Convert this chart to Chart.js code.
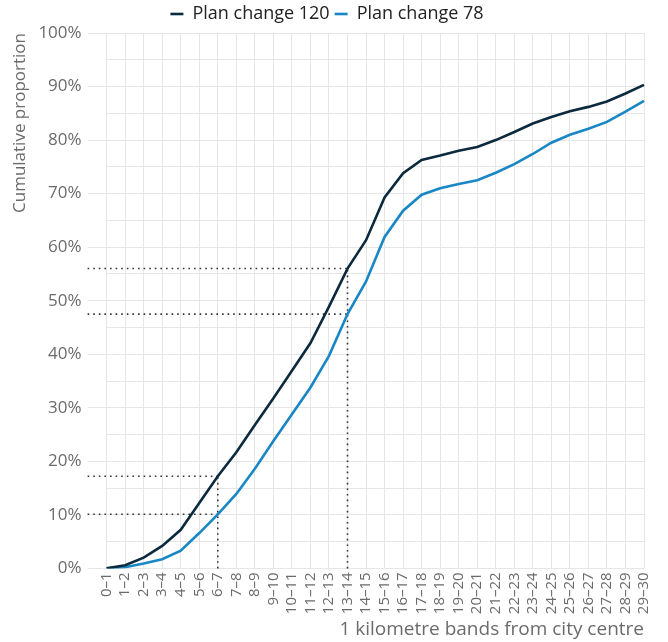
<!DOCTYPE html>
<html>
<head>
<meta charset="utf-8">
<script src="https://cdn.jsdelivr.net/npm/chart.js@4"></script>
<style>
  html, body { margin:0; padding:0; background:#fff; }
  #wrap { width:668px; height:642px; position:relative; }
</style>
</head>
<body>
<div id="wrap"><canvas id="chart"></canvas></div>
<script>
// ---- 데이터 ----
const bands = ['0–1','1–2','2–3','3–4','4–5','5–6','6–7','7–8','8–9','9–10',
  '10–11','11–12','12–13','13–14','14–15','15–16','16–17','17–18','18–19','19–20',
  '20–21','21–22','22–23','23–24','24–25','25–26','26–27','27–28','28–29','29–30'];

const plan120 = [0, 0.6, 2.0, 4.2, 7.2, 12.2, 17.2, 21.7, 26.8, 31.8,
  36.9, 42.1, 48.9, 56.0, 61.3, 69.3, 73.8, 76.3, 77.1, 78.0,
  78.7, 80.0, 81.5, 83.1, 84.3, 85.4, 86.2, 87.2, 88.7, 90.3];

const plan78 = [0, 0.2, 0.9, 1.7, 3.3, 6.6, 10.1, 13.9, 18.6, 23.8,
  28.8, 33.8, 39.7, 47.5, 53.6, 61.9, 66.8, 69.8, 71.0, 71.8,
  72.5, 73.9, 75.5, 77.4, 79.5, 81.0, 82.1, 83.4, 85.3, 87.3];

const yTicks = [0, 10, 20, 30, 40, 50, 60, 70, 80, 90, 100];
// 점선 기준선: 6–7, 13–14 구간
const refBands = ['6–7', '13–14'];

const FONT = '"Open Sans"';
const GREY = '#6b6b6b';

// ---- 점선 기준선 플러그인 ----
const refLines = {
  id: 'refLines',
  beforeDatasetsDraw(chart){
    const {ctx, scales:{x, y}, chartArea} = chart;
    ctx.save();
    ctx.strokeStyle = '#333';
    ctx.lineWidth = 1.6;
    ctx.setLineDash([1.6, 4]);
    refBands.forEach(b => {
      const i = bands.indexOf(b);
      const px = x.getPixelForValue(i);
      const top = Math.max(plan120[i], plan78[i]);
      ctx.beginPath();
      ctx.moveTo(px, y.getPixelForValue(0));
      ctx.lineTo(px, y.getPixelForValue(top));
      ctx.stroke();
      [plan120[i], plan78[i]].forEach(v => {
        const py = y.getPixelForValue(v);
        ctx.beginPath();
        ctx.moveTo(chartArea.left - 19, py);
        ctx.lineTo(px, py);
        ctx.stroke();
      });
    });
    ctx.restore();
  }
};

const ctx = document.getElementById('chart').getContext('2d');
new Chart(ctx, {
  type: 'line',
  data: {
    labels: bands,
    datasets: [
      { label:'Plan change 120', data:plan120, borderColor:'#0c2a3d', backgroundColor:'#0c2a3d',
        borderWidth:2.6, pointRadius:0, tension:0 },
      { label:'Plan change 78', data:plan78, borderColor:'#1987c5', backgroundColor:'#1987c5',
        borderWidth:2.6, pointRadius:0, tension:0 }
    ]
  },
  options: {
    responsive: true,
    maintainAspectRatio: false,
    animation: false,
    layout: { padding: { left: 10, right: 24, top: 0, bottom: 1 } },
    plugins: {
      legend: {
        position: 'top',
        labels: {
          usePointStyle: true, pointStyle: 'line', pointStyleWidth: 13, boxHeight: 12,
          color: '#222', font: { family: FONT, size: 18 }, padding: 5
        }
      },
      tooltip: { enabled: false }
    },
    scales: {
      x: {
        offset: false,
        grid: { color: '#e6e6e6', drawTicks: false },
        border: { display: false },
        ticks: {
          autoSkip: false, maxRotation: 90, minRotation: 90, padding: 4,
          color: GREY, font: { family: FONT, size: 15 }
        },
        title: {
          display: true, text: '1 kilometre bands from city centre', align: 'end',
          color: GREY, font: { family: FONT, size: 19 }, padding: { top: 0, bottom: 0 }
        }
      },
      y: {
        min: 0, max: 100,
        grid: {
          color: '#e6e6e6', tickLength: 19,
          tickColor: c => (c.tick && yTicks.includes(c.tick.value)) ? '#e6e6e6' : 'rgba(0,0,0,0)'
        },
        border: { display: false },
        ticks: {
          stepSize: 5, padding: 6, color: GREY, font: { family: FONT, size: 17 },
          callback: v => yTicks.includes(v) ? v + '%' : ''
        },
        title: {
          display: true, text: 'Cumulative proportion', align: 'end',
          color: GREY, font: { family: FONT, size: 17 }, padding: { top: 0, bottom: 2 }
        }
      }
    }
  },
  plugins: [refLines]
});
</script>
</body>
</html>
